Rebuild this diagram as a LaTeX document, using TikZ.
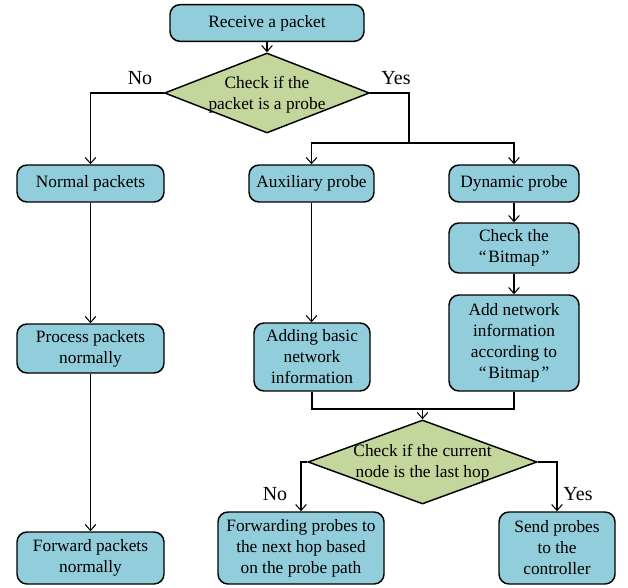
\documentclass[tikz,border=0pt]{standalone}
\usepackage{fontspec}
\setmainfont{Liberation Serif}
\usetikzlibrary{shapes.geometric,arrows.meta}
\definecolor{boxblue}{RGB}{146,205,220}
\definecolor{diagreen}{RGB}{195,214,155}
\begin{document}
\begin{tikzpicture}[x=0.75pt,y=-0.75pt,
  box/.style={draw=black, line width=1.1pt, fill=boxblue, rounded corners=7.5pt,
    align=center, inner sep=0pt, text=black,
    font=\fontsize{13}{15.75}\selectfont},
  dia/.style={draw=black, line width=1.1pt, fill=diagreen, shape=diamond,
    inner sep=0pt},
  diatext/.style={align=center, inner sep=0pt, text=black,
    font=\fontsize{13}{15.75}\selectfont},
  lab/.style={inner sep=0pt, text=black, font=\fontsize{15}{18}\selectfont},
  conn/.style={draw=black, line width=0.8pt},
  arr/.style={conn, -{Straight Barb[length=4.5pt,width=8pt]}}]
\useasboundingbox (0,0) rectangle (628,588);

% boxes
\node[box, minimum width=145.5pt, minimum height=27.5pt] (recv) at (267,23) {Receive a packet};
\node[box, minimum width=110.25pt, minimum height=27.75pt] (normal) at (90.5,183.5) {Normal packets};
\node[box, minimum width=93.75pt, minimum height=27.75pt] (aux) at (311.5,183.5) {Auxiliary probe};
\node[box, minimum width=97.5pt, minimum height=27.75pt] (dyn) at (514,183.5) {Dynamic probe};
\node[box, minimum width=97.5pt, minimum height=37.5pt] (bitmap) at (514,248) {Check the\\“\kern1.5pt Bitmap\kern1.5pt ”};
\node[box, minimum width=97.5pt, minimum height=72pt] (addnet) at (514,343) {Add network\\information\\according to\\“\kern1.5pt Bitmap\kern1.5pt ”};
\node[box, minimum width=87pt, minimum height=51pt] (addbasic) at (312,357) {Adding basic\\network\\information};
\node[box, minimum width=110.25pt, minimum height=36.75pt] (process) at (90.5,348.5) {Process packets\\normally};
\node[box, minimum width=110.25pt, minimum height=39pt] (forward) at (90.5,558) {Forward packets\\normally};
\node[box, minimum width=124.5pt, minimum height=54pt] (fwd) at (301,548) {Forwarding probes to\\the next hop based\\on the probe path};
\node[box, minimum width=87pt, minimum height=54pt] (send) at (557,548) {Send probes\\to the\\controller};

% diamonds
\node[dia, minimum width=153.75pt, minimum height=60pt] (d1) at (267,93) {};
\node[diatext] (d1t) at (267,95) {Check if the\\packet is a probe};
\node[dia, minimum width=171.75pt, minimum height=63pt] (d2) at (422.5,462) {};
\node[diatext] (d2t) at (422.5,463) {Check if the current\\node is the last hop};

% labels
\node[lab] (no1) at (140,78) {No};
\node[lab] (yes1) at (396,78) {Yes};
\node[lab] (no2) at (275,494) {No};
\node[lab] (yes2) at (578,494) {Yes};

% connectors
\coordinate (ysplit) at (409,143);
\coordinate (merge) at (422.5,409);
\draw[arr] (recv.south) -- (d1.north);
\draw[arr] (d1.west) -| (normal.north);
\draw[conn] (d1.east) -| (ysplit);
\draw[arr] (ysplit) -| (aux.north);
\draw[arr] (ysplit) -| (dyn.north);
\draw[arr] (normal.south) -- (process.north);
\draw[arr] (process.south) -- (forward.north);
\draw[arr] (aux.south) -- (aux.south |- addbasic.north);
\draw[arr] (dyn.south) -- (bitmap.north);
\draw[arr] (bitmap.south) -- (addnet.north);
\draw[conn] (addbasic.south) |- (merge);
\draw[conn] (addnet.south) |- (merge);
\draw[arr] (merge) -- (d2.north);
\draw[arr] (d2.west) -| (fwd.north);
\draw[arr] (d2.east) -| (send.north);
\end{tikzpicture}
\end{document}
